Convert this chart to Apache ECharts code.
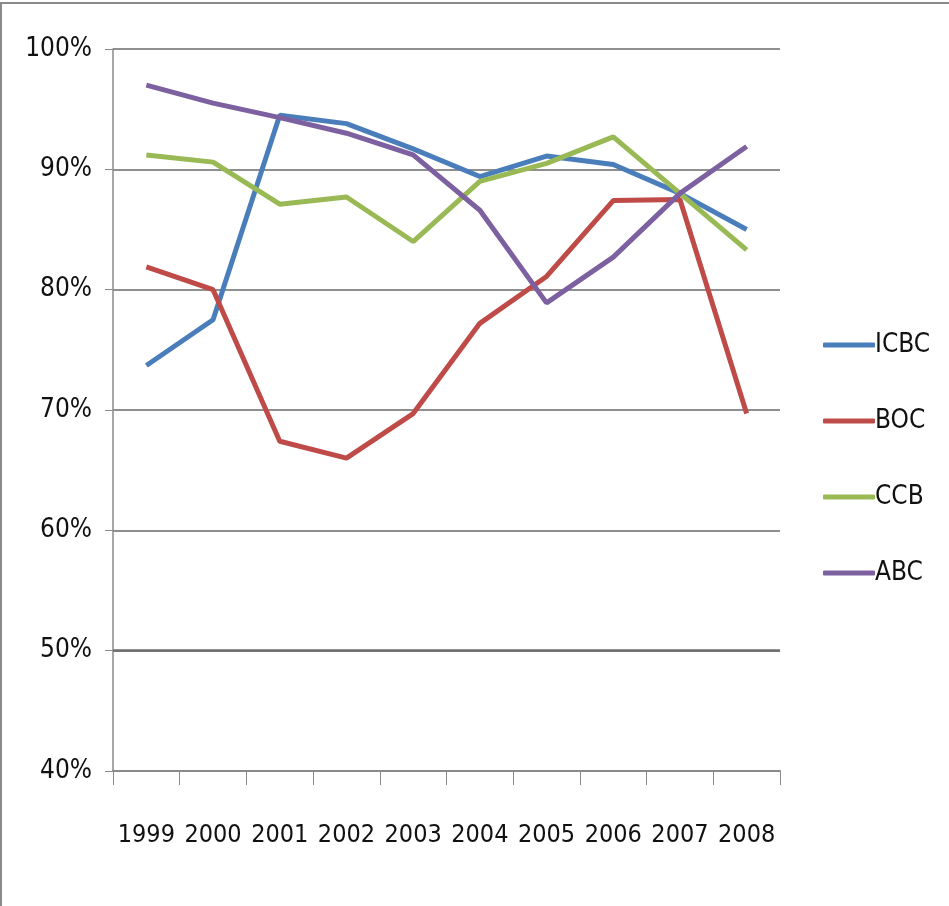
<!DOCTYPE html>
<html>
<head>
<meta charset="utf-8">
<script src="https://cdn.jsdelivr.net/npm/echarts@6/dist/echarts.min.js"></script>
<style>
  html, body { margin: 0; padding: 0; background: #fff; }
  #chart { width: 949px; height: 906px; }
  .frame { position: absolute; left: 0; top: 2px; width: 947px; height: 904px;
           border-left: 2px solid #8a8a8a; border-top: 2px solid #8a8a8a; pointer-events: none; }
</style>
</head>
<body>
<div id="chart"></div>
<div class="frame"></div>
<script>
// years on the x axis
var years = ['1999', '2000', '2001', '2002', '2003', '2004', '2005', '2006', '2007', '2008'];

// values in %
var icbc = [73.7, 77.5, 94.5, 93.8, 91.7, 89.4, 91.1, 90.4, 88.0, 85.0];
var boc  = [81.9, 80.0, 67.4, 66.0, 69.7, 77.2, 81.1, 87.4, 87.5, 69.7];
var ccb  = [91.2, 90.6, 87.1, 87.7, 84.0, 89.0, 90.5, 92.7, 88.0, 83.3];
var abc  = [97.0, 95.5, 94.3, 93.0, 91.2, 86.6, 78.9, 82.7, 88.0, 91.9];

var yTicks = { min: 40, max: 100, step: 10 };

var font = '"DejaVu Sans Condensed", "Liberation Sans Narrow", sans-serif';
var colors = ['#4a7ebb', '#be4b48', '#98b954', '#7d60a0'];

function mkLine(name, data) {
  return {
    name: name,
    type: 'line',
    data: data,
    symbol: 'none',
    lineStyle: { width: 5 },
    z: 3
  };
}

var myChart = echarts.init(document.getElementById('chart'));
var series = [
  mkLine('ICBC', icbc),
  mkLine('BOC', boc),
  mkLine('CCB', ccb),
  mkLine('ABC', abc)
];
// the 50% gridline is drawn darker in the picture
series[0].markLine = {
  silent: true,
  symbol: 'none',
  label: { show: false },
  lineStyle: { color: '#6e6e6e', width: 2.5, type: 'solid' },
  data: [{ yAxis: 50 }],
  z: 1
};

myChart.setOption({
  animation: false,
  color: colors,
  grid: { left: 113, right: 169, top: 49, bottom: 135 },
  legend: {
    orient: 'vertical',
    left: 818,
    top: 326,
    itemWidth: 52,
    itemHeight: 5,
    itemGap: 48,
    icon: 'roundRect',
    textStyle: { fontFamily: font, fontSize: 26, color: '#111', lineHeight: 28, padding: [0, 0, 0, -5] },
    data: ['ICBC', 'BOC', 'CCB', 'ABC']
  },
  xAxis: {
    type: 'category',
    data: years,
    boundaryGap: true,
    axisLine: { lineStyle: { color: '#8a8a8a', width: 2 } },
    axisTick: { show: true, interval: 0, length: 14, lineStyle: { color: '#8a8a8a', width: 1 } },
    axisLabel: { interval: 0, margin: 52, fontFamily: font, fontSize: 25, color: '#111' },
    splitLine: { show: false }
  },
  yAxis: {
    type: 'value',
    min: yTicks.min,
    max: yTicks.max,
    interval: yTicks.step,
    axisLine: { show: true, lineStyle: { color: '#8a8a8a', width: 1.5 } },
    axisTick: { show: true, length: 8, lineStyle: { color: '#8a8a8a', width: 1 } },
    axisLabel: { formatter: '{value}%', margin: 21, fontFamily: font, fontSize: 26, color: '#111' },
    splitLine: { show: true, lineStyle: { color: '#8f8f8f', width: 2 } }
  },
  series: series
});
</script>
</body>
</html>
